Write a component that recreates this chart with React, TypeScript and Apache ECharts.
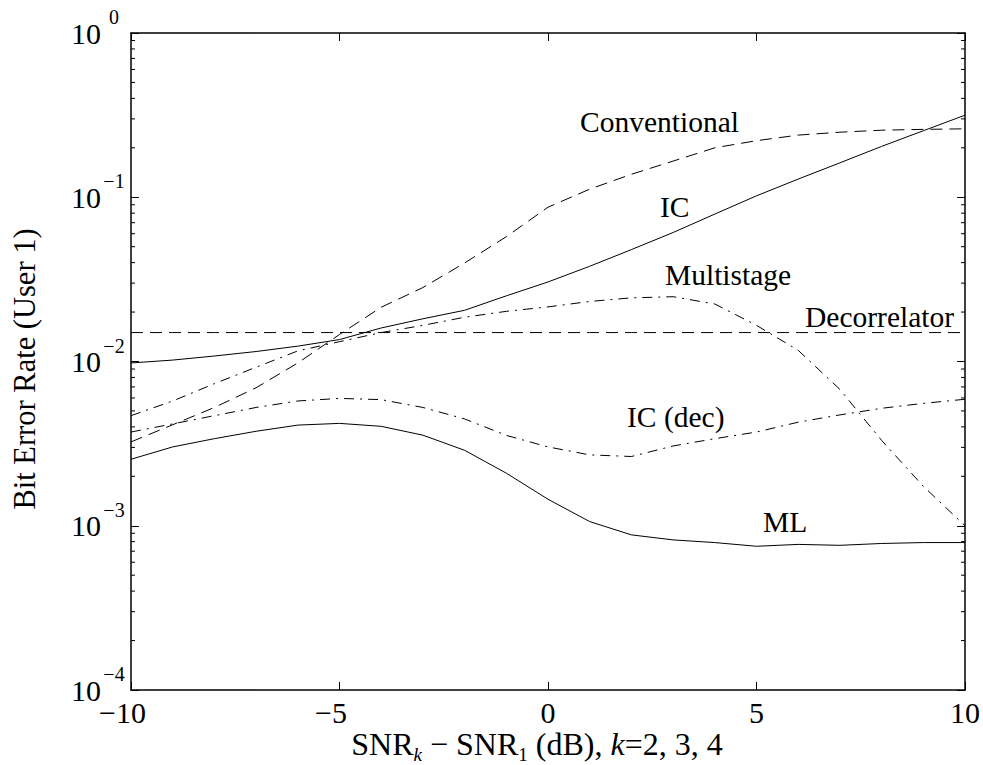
import React, { useEffect, useRef } from 'react';
import * as echarts from 'echarts';

// ---- data ----
const snrDiff = [-10, -9, -8, -7, -6, -5, -4, -3, -2, -1, 0, 1, 2, 3, 4, 5, 6, 7, 8, 9, 10];
const conventional = [0.00324, 0.00412, 0.00525, 0.00692, 0.0098, 0.0146, 0.0214, 0.0282, 0.0398, 0.0575, 0.087, 0.112, 0.138, 0.166, 0.2, 0.221, 0.239, 0.249, 0.256, 0.259, 0.261];
const ic = [0.0098, 0.0102, 0.0108, 0.0115, 0.0124, 0.0136, 0.016, 0.0182, 0.0205, 0.0251, 0.0305, 0.038, 0.048, 0.061, 0.079, 0.102, 0.129, 0.162, 0.204, 0.254, 0.316];
const multistage = [0.00468, 0.00575, 0.00733, 0.00923, 0.0116, 0.0132, 0.015, 0.0166, 0.0186, 0.0202, 0.0215, 0.0232, 0.0244, 0.0248, 0.0224, 0.0166, 0.0117, 0.00676, 0.00331, 0.00174, 0.001];
const decorrelator = [0.015, 0.015, 0.015, 0.015, 0.015, 0.015, 0.015, 0.015, 0.015, 0.015, 0.015, 0.015, 0.015, 0.015, 0.015, 0.015, 0.015, 0.015, 0.015, 0.015, 0.015];
const icDec = [0.00372, 0.00417, 0.00468, 0.00525, 0.00575, 0.00596, 0.00586, 0.00525, 0.00447, 0.00355, 0.00302, 0.0027, 0.00264, 0.00306, 0.00339, 0.00372, 0.00427, 0.00473, 0.00519, 0.00556, 0.00589];
const ml = [0.00254, 0.00302, 0.00339, 0.00376, 0.0041, 0.0042, 0.00403, 0.00356, 0.00288, 0.00209, 0.00145, 0.00106, 0.00088, 0.00082, 0.00079, 0.00075, 0.00077, 0.00076, 0.00078, 0.00079, 0.00079];

const yDecades = [1e-4, 1e-3, 1e-2, 1e-1, 1];
const minorMultipliers = [2, 3, 4, 5, 6, 7, 8, 9];

const seriesNames = ['Conventional', 'IC', 'Multistage', 'Decorrelator', 'IC (dec)', 'ML'];

// ---- styles / layout ----
const FONT = "'Liberation Serif', 'Times New Roman', Times, serif";
const DASH = [12, 7];
const DASHDOT = [10, 6, 2, 6];
const TICK_FS = 30;
const SUP_FS = 20;
const XNAME_FS = 32;
const YNAME_FS = 30.5;
const SUB_FS = 19;
const ANNOT_FS = 29.5;
const annotationPos: Record<string, [number, number]> = {
  'Conventional': [580, 122],
  'IC': [660, 207],
  'Multistage': [665, 275],
  'Decorrelator': [805, 317],
  'IC (dec)': [627, 417],
  'ML': [763, 522],
};

export default function App() {
  const ref = useRef<HTMLDivElement>(null);
  useEffect(() => {
    if (!ref.current) return;
    const chart = echarts.init(ref.current, undefined, { renderer: 'svg' });

    const pair = (arr: number[]) => snrDiff.map((x, i) => [x, arr[i]]);
    const seriesData = [conventional, ic, multistage, decorrelator, icDec, ml];
    const styles: any[] = ['dashed', 'solid', 'dashdot', 'dashed', 'dashdot', 'solid'];

    const minorTicks: number[][] = [];
    yDecades.slice(0, -1).forEach((d) => minorMultipliers.forEach((m) => minorTicks.push([-10, d * m])));

    const expLabel = (v: number) => {
      const e = Math.round(Math.log10(v));
      return `{b|10}{s|${e < 0 ? '\u2212' + (-e) : e}}`;
    };

    const axisLine = { show: true, onZero: false, lineStyle: { color: '#000', width: 1.5 } };
    const axisTick = { show: true, inside: true, length: 8, lineStyle: { color: '#000', width: 1 } };

    const option: any = {
      animation: false,
      backgroundColor: '#fff',
      textStyle: { fontFamily: FONT, color: '#000' },
      grid: { left: 131, right: 18, top: 33, bottom: 75, containLabel: false, outerBoundsMode: 'none' },
      xAxis: [
        {
          type: 'value', min: -10, max: 10, interval: 5, position: 'bottom',
          axisLine, axisTick,
          splitLine: { show: false },
          axisLabel: {
            margin: 8,
            fontFamily: FONT,
            fontSize: TICK_FS,
            color: '#000',
            formatter: (v: number) => (v < 0 ? `{n|\u2212${-v}}{p| }` : `{n|${v}}`),
            rich: {
              n: { fontFamily: FONT, fontSize: TICK_FS, lineHeight: 28, color: '#000' },
              p: { fontFamily: FONT, fontSize: TICK_FS, lineHeight: 28, width: 17 },
            },
          },
          name: '{r|SNR}{sk|k}{r| \u2212 SNR}{sub|1}{r| (dB), }{i|k}{r|=2, 3, 4}',
          nameLocation: 'middle',
          nameGap: 38,
          nameMoveOverlap: false,
          nameTextStyle: {
            fontFamily: FONT,
            padding: [0, 22, 0, 0],
            rich: {
              r: { fontFamily: FONT, fontSize: XNAME_FS, lineHeight: 26, verticalAlign: 'top', color: '#000' },
              i: { fontFamily: FONT, fontSize: XNAME_FS, lineHeight: 26, verticalAlign: 'top', fontStyle: 'italic', color: '#000' },
              sub: { fontFamily: FONT, fontSize: SUB_FS, lineHeight: 14, verticalAlign: 'top', padding: [17, 0, 0, 0], color: '#000' },
              sk: { fontFamily: FONT, fontSize: SUB_FS, lineHeight: 14, verticalAlign: 'top', padding: [17, 0, 0, 0], fontStyle: 'italic', color: '#000' },
            },
          },
        },
        {
          type: 'value', min: -10, max: 10, interval: 5, position: 'top',
          axisLine, axisTick,
          axisLabel: { show: false },
          splitLine: { show: false },
        },
      ],
      yAxis: [
        {
          type: 'log', logBase: 10, min: 1e-4, max: 1, position: 'left',
          axisLine, axisTick,
          splitLine: { show: false },
          axisLabel: {
            margin: 4,
            formatter: expLabel,
            rich: {
              b: { fontFamily: FONT, fontSize: TICK_FS, lineHeight: 52, color: '#000' },
              s: { fontFamily: FONT, fontSize: SUP_FS, lineHeight: 20, verticalAlign: 'top', width: 26, align: 'left', color: '#000' },
            },
          },
          name: 'Bit Error Rate (User 1)',
          nameLocation: 'middle',
          nameRotate: 90,
          nameGap: 91,
          nameMoveOverlap: false,
          nameTextStyle: { fontFamily: FONT, fontSize: YNAME_FS, color: '#000', padding: [0, 15, 0, 0] },
        },
        {
          type: 'log', logBase: 10, min: 1e-4, max: 1, position: 'right',
          axisLine, axisTick,
          axisLabel: { show: false },
          splitLine: { show: false },
        },
      ],
      series: [
        ...seriesNames.map((name, k) => ({
          name,
          type: 'line',
          xAxisIndex: 0,
          yAxisIndex: 0,
          data: pair(seriesData[k]),
          showSymbol: false,
          symbol: 'none',
          silent: true,
          lineStyle: {
            color: '#000',
            width: 1,
            type: styles[k] === 'dashed' ? DASH : styles[k] === 'dashdot' ? DASHDOT : 'solid',
          },
        })),
        {
          type: 'custom',
          name: 'minorTicks',
          xAxisIndex: 0,
          yAxisIndex: 0,
          silent: true,
          clip: false,
          data: minorTicks,
          renderItem: (params: any, api: any) => {
            const v = api.value(1);
            const pl = api.coord([-10, v]);
            const pr = api.coord([10, v]);
            return {
              type: 'group',
              children: [
                { type: 'line', shape: { x1: pl[0], y1: pl[1], x2: pl[0] + 4, y2: pl[1] }, style: { stroke: '#000', lineWidth: 1 } },
                { type: 'line', shape: { x1: pr[0], y1: pr[1], x2: pr[0] - 4, y2: pr[1] }, style: { stroke: '#000', lineWidth: 1 } },
              ],
            };
          },
        },
      ],
      graphic: seriesNames.map((name) => ({
        type: 'text',
        x: annotationPos[name][0],
        y: annotationPos[name][1],
        silent: true,
        style: {
          text: name,
          fontFamily: FONT,
          fontSize: ANNOT_FS,
          fill: '#000',
          textAlign: 'left',
          textVerticalAlign: 'middle',
        },
      })),
    };
    chart.setOption(option);
    return () => chart.dispose();
  }, []);

  return (
    <div
      ref={ref}
      style={{ position: 'absolute', left: 0, top: 0, width: 983, height: 765, background: '#fff' }}
    />
  );
}
